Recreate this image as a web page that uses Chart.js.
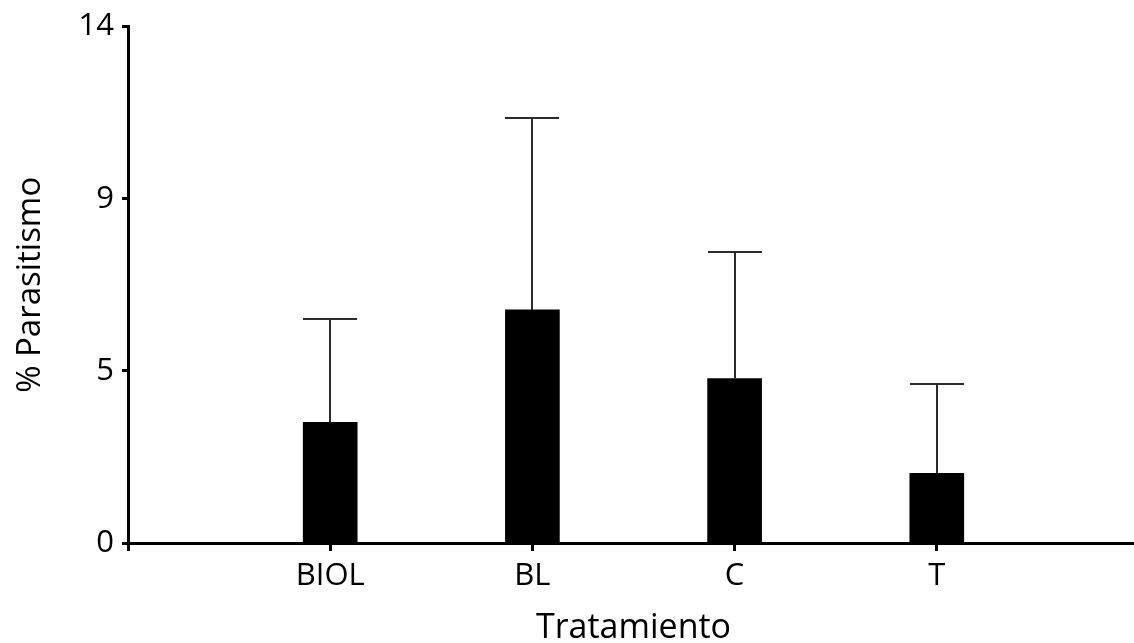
<!DOCTYPE html>
<html>
<head>
<meta charset="utf-8">
<script src="https://cdn.jsdelivr.net/npm/chart.js@4"></script>
<style>
html,body{margin:0;padding:0;background:#fff;overflow:hidden;}
#wrap{width:1146px;height:643px;}
</style>
</head>
<body>
<div id="wrap"><canvas id="c"></canvas></div>
<script>
const categories = ['', 'BIOL', 'BL', 'C', 'T', ''];
const means = [null, 3.27, 6.32, 4.46, 1.89, null];
const stdErr = [null, 2.81, 5.19, 3.43, 2.41, null];
const yTickValues = [0, 4.667, 9.333, 14];
const yTickLabels = ['0', '5', '9', '14'];
const xTitle = 'Tratamiento';
const yTitle = '% Parasitismo';

const FONT = '"Open Sans", "Liberation Sans", sans-serif';

const errorBars = {
  id: 'errorBars',
  afterDatasetsDraw(chart) {
    const ctx = chart.ctx;
    const meta = chart.getDatasetMeta(0);
    const ys = chart.scales.y;
    ctx.save();
    ctx.strokeStyle = '#2b2b2b';
    ctx.lineWidth = 2;
    meta.data.forEach((bar, i) => {
      if (means[i] == null) return;
      const x = Math.round(bar.x);
      const yBar = ys.getPixelForValue(means[i]);
      const yTop = Math.round(ys.getPixelForValue(means[i] + stdErr[i]));
      const w = bar.width;
      ctx.beginPath();
      ctx.moveTo(x, yBar);
      ctx.lineTo(x, yTop);
      ctx.moveTo(x - w / 2, yTop);
      ctx.lineTo(x + w / 2, yTop);
      ctx.stroke();
    });
    ctx.restore();
  }
};

new Chart(document.getElementById('c'), {
  type: 'bar',
  data: {
    labels: categories,
    datasets: [{
      data: means,
      backgroundColor: '#000',
      borderWidth: 0,
      barThickness: 54
    }]
  },
  plugins: [errorBars],
  options: {
    responsive: true,
    maintainAspectRatio: false,
    animation: false,
    layout: { padding: { top: 25, right: 0, bottom: 0, left: 0 } },
    plugins: { legend: { display: false }, tooltip: { enabled: false } },
    scales: {
      x: {
        type: 'category',
        offset: false,
        grid: {
          display: true, offset: false, drawOnChartArea: false, drawTicks: true,
          tickLength: 8, tickWidth: 3,
          tickColor: (c) => (c.index === categories.length - 1 ? 'rgba(0,0,0,0)' : '#000')
        },
        border: { display: true, color: '#000', width: 3 },
        ticks: {
          color: '#000', padding: 7, maxRotation: 0, autoSkip: false,
          font: { family: FONT, size: 31 }
        },
        title: {
          display: true, text: xTitle, color: '#000', padding: 0,
          font: { family: FONT, size: 34, lineHeight: 0.85 }
        },
        afterFit(scale) { scale.height = 100; }
      },
      y: {
        min: 0, max: 14,
        afterBuildTicks(axis) {
          axis.ticks = yTickValues.map(v => ({ value: v }));
        },
        grid: {
          display: true, drawOnChartArea: false, drawTicks: true,
          tickLength: 6, tickWidth: 3, tickColor: '#000'
        },
        border: { display: true, color: '#000', width: 3 },
        ticks: {
          color: '#000', padding: 8,
          font: { family: FONT, size: 31 },
          callback: (v, i) => yTickLabels[i]
        },
        title: {
          display: true, text: yTitle, color: '#000', padding: { top: 11, bottom: 0 },
          font: { family: FONT, size: 33 }
        },
        afterFit(scale) { scale.width = 128; }
      }
    }
  }
});
</script>
</body>
</html>
